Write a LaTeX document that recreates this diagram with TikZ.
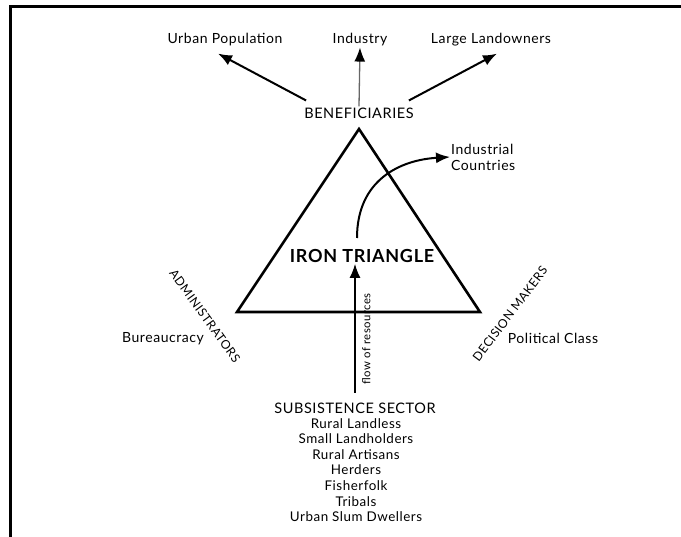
\documentclass[tikz,border=0pt]{standalone}
\usepackage{fontspec}
\setmainfont{Lato}[LetterSpace=4]
\usetikzlibrary{arrows.meta}
\begin{document}
\begin{tikzpicture}[x=1pt,y=-1pt, every node/.style={font=\fontsize{14}{16}\selectfont,inner sep=1pt},
  flow/.style={-{Latex[length=14pt,width=11pt,color=black]},line width=2pt},
  side/.style={font=\fontsize{14.5}{16}\selectfont},
  slant/.style={font=\fontsize{12.2}{14}\selectfont,inner sep=0pt}]
  \useasboundingbox (0,0) rectangle (681,537);
  % frame
  \draw[line width=3pt] (10.5,537) -- (10.5,6.5) -- (681,6.5);
  % the triangle
  \coordinate (apex) at (359,129);
  \coordinate (lft) at (237,312);
  \coordinate (rgt) at (480,312);
  \draw[line width=2.6pt,line join=miter] (apex) -- (lft) -- (rgt) -- cycle;
  \node[font=\bfseries\fontsize{18}{20}\selectfont] (iron) at (362,256) {IRON TRIANGLE};
  % beneficiaries on top
  \node[side] (benef) at (359,113) {BENEFICIARIES};
  \node (urban) at (225,40) {Urban Population};
  \node (indus) at (360,40) {Industry};
  \node (land) at (491,40) {Large Landowners};
  \draw[flow] ([shift={(3,-6)}]benef.north west) -- ([shift={(-7,6)}]urban.south);
  \draw[flow,line width=1.3pt,black!60] (benef.north) -- (indus.south);
  \draw[flow] ([shift={(-6,-6)}]benef.north east) -- ([shift={(6,6)}]land.south);
  % corners
  \node[slant,rotate=-54] (admin) at (205,316) {ADMINISTRATORS};
  \node (bureau) at (163,339) {Bureaucracy};
  \node[slant,rotate=53] (decis) at (510,314) {DECISION MAKERS};
  \node (polit) at (553,338) {Political Class};
  % resources out of the triangle
  \coordinate (curvestart) at (357,238);
  \node[align=left,anchor=west] (indc) at (450,157) {Industrial\\Countries};
  \draw[flow] (curvestart) .. controls (357,180) and (400,160) .. (indc.west);
  \coordinate (flowbase) at (355,393);
  \draw[flow,line width=1.5pt] (flowbase) -- (flowbase |- iron.south);
  \node[rotate=90,anchor=north,font=\fontsize{11.3}{13}\selectfont] (flowlab) at (361,339) {flow of resources};
  % subsistence sector
  \node[side] (subs) at (355,408) {SUBSISTENCE SECTOR};
  \node[align=center,anchor=north,font=\fontsize{13.4}{15.6}\selectfont] (groups) at (356,417)
    {Rural Landless\\Small Landholders\\Rural Artisans\\Herders\\Fisherfolk\\Tribals\\Urban Slum Dwellers};
\end{tikzpicture}
\end{document}
